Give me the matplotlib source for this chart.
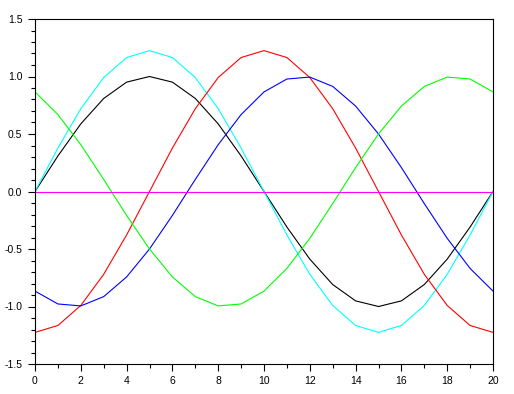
import matplotlib.pyplot as plt
from matplotlib.ticker import MultipleLocator

x = list(range(21))

black = [0, 0.309, 0.588, 0.809, 0.951, 1.0, 0.951, 0.809, 0.588, 0.309, 0,
         -0.309, -0.588, -0.809, -0.951, -1.0, -0.951, -0.809, -0.588, -0.309, 0]
cyan = [0, 0.378, 0.720, 0.991, 1.165, 1.225, 1.165, 0.991, 0.720, 0.378, 0,
        -0.378, -0.720, -0.991, -1.165, -1.225, -1.165, -0.991, -0.720, -0.378, 0]
red = [-1.225, -1.165, -0.991, -0.720, -0.378, 0, 0.378, 0.720, 0.991, 1.165, 1.225,
       1.165, 0.991, 0.720, 0.378, 0, -0.378, -0.720, -0.991, -1.165, -1.225]
blue = [-0.866, -0.978, -0.995, -0.914, -0.743, -0.5, -0.208, 0.105, 0.407, 0.669, 0.866,
        0.978, 0.995, 0.914, 0.743, 0.5, 0.208, -0.105, -0.407, -0.669, -0.866]
green = [0.866, 0.669, 0.407, 0.105, -0.208, -0.5, -0.743, -0.914, -0.995, -0.978, -0.866,
         -0.669, -0.407, -0.105, 0.208, 0.5, 0.743, 0.914, 0.995, 0.978, 0.866]
magenta = [0] * 21

plt.rcParams['font.family'] = ['Liberation Sans', 'DejaVu Sans']

fig = plt.figure(figsize=(5.14, 3.94), dpi=100)
ax = fig.add_axes([35 / 514, 30 / 394, 458 / 514, 345 / 394])

lw = 0.8
for ys, c in [(black, 'black'), (cyan, 'cyan'), (red, 'red'),
              (blue, 'blue'), (green, '#00ff00'), (magenta, 'magenta')]:
    ax.plot(x, ys, color=c, linewidth=lw)

ax.set_xlim(0, 20)
ax.set_ylim(-1.5, 1.5)
ax.xaxis.set_major_locator(MultipleLocator(2))
ax.xaxis.set_minor_locator(MultipleLocator(1))
ax.yaxis.set_major_locator(MultipleLocator(0.5))
ax.yaxis.set_minor_locator(MultipleLocator(0.1))
ax.set_yticklabels([f'{v:.1f}' for v in ax.get_yticks()])

ax.tick_params(which='major', direction='out', length=5, width=0.8, labelsize=7.5, pad=4)
ax.tick_params(which='minor', direction='out', length=3, width=0.8)
for s in ax.spines.values():
    s.set_linewidth(0.8)

fig.savefig('out.png', dpi=100)
